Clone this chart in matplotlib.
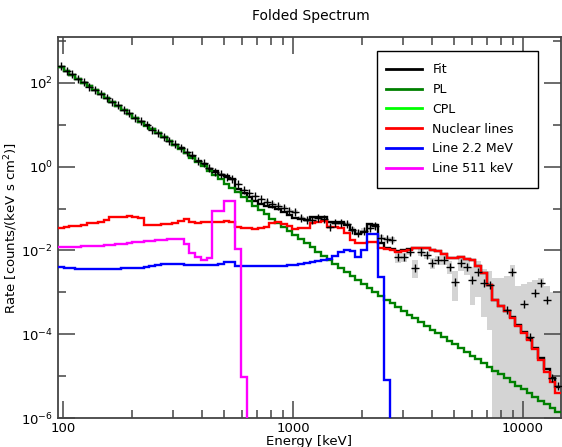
import numpy as np
import matplotlib
matplotlib.use("Agg")
import matplotlib.pyplot as plt
from matplotlib.lines import Line2D
from matplotlib.patches import Rectangle
from matplotlib.ticker import FixedLocator, LogLocator, NullFormatter, FuncFormatter, LogFormatterSciNotation

# energy binning (keV)
e_min, e_max, n_bins = 95.1, 14620.0, 88

# model components, log10 of rate per bin [counts/(keV s cm2)]
fit_log = [2.383, 2.290, 2.196, 2.104, 2.009, 1.917, 1.823, 1.731, 1.637, 1.544,
           1.450, 1.358, 1.263, 1.172, 1.078, 0.986, 0.892, 0.800, 0.707, 0.615,
           0.524, 0.435, 0.335, 0.233, 0.132, 0.034, -0.064, -0.111, -0.195, -0.221,
           -0.290, -0.530, -0.638, -0.723, -0.810, -0.879, -0.942, -0.969, -1.010, -1.081,
           -1.146, -1.222, -1.240, -1.267, -1.205, -1.201, -1.194, -1.312, -1.311, -1.323,
           -1.402, -1.523, -1.618, -1.568, -1.379, -1.380, -1.833, -1.936, -1.965, -2.015,
           -1.997, -1.975, -1.931, -1.932, -1.933, -1.982, -2.008, -2.079, -2.175, -2.175,
           -2.153, -2.200, -2.225, -2.367, -2.535, -2.818, -3.173, -3.315, -3.434, -3.600,
           -3.788, -3.951, -4.113, -4.322, -4.570, -4.833, -5.050, -5.271]

pl_log = [2.383, 2.290, 2.196, 2.104, 2.009, 1.917, 1.823, 1.730, 1.636, 1.543,
          1.449, 1.357, 1.262, 1.170, 1.076, 0.983, 0.889, 0.796, 0.702, 0.609,
          0.515, 0.423, 0.320, 0.217, 0.113, 0.010, -0.095, -0.198, -0.303, -0.406,
          -0.511, -0.614, -0.719, -0.822, -0.927, -1.030, -1.135, -1.238, -1.343, -1.446,
          -1.545, -1.640, -1.737, -1.832, -1.929, -2.025, -2.122, -2.217, -2.314, -2.409,
          -2.506, -2.601, -2.698, -2.794, -2.891, -2.986, -3.083, -3.174, -3.264, -3.353,
          -3.443, -3.531, -3.621, -3.710, -3.800, -3.888, -3.978, -4.067, -4.157, -4.245,
          -4.335, -4.424, -4.514, -4.602, -4.692, -4.781, -4.871, -4.959, -5.049, -5.137,
          -5.228, -5.316, -5.406, -5.494, -5.584, -5.673, -5.763, -5.851]

nuclear_log = [-1.463, -1.439, -1.415, -1.415, -1.391, -1.343, -1.343, -1.319, -1.272, -1.200,
               -1.200, -1.200, -1.176, -1.200, -1.224, -1.391, -1.391, -1.391, -1.367, -1.367,
               -1.343, -1.296, -1.248, -1.319, -1.343, -1.319, -1.319, -1.319, -1.319, -1.296,
               -1.319, -1.439, -1.463, -1.463, -1.487, -1.463, -1.439, -1.343, -1.319, -1.367,
               -1.415, -1.487, -1.463, -1.463, -1.343, -1.319, -1.296, -1.439, -1.439, -1.463,
               -1.582, -1.749, -1.821, -1.821, -1.797, -1.797, -1.940, -1.964, -1.988, -2.036,
               -2.012, -1.988, -1.940, -1.940, -1.940, -1.988, -2.012, -2.084, -2.179, -2.179,
               -2.155, -2.203, -2.227, -2.370, -2.537, -2.824, -3.182, -3.325, -3.445, -3.612,
               -3.803, -3.970, -4.137, -4.352, -4.615, -4.901, -5.140, -5.403]

# 2.2 MeV line, zero above the listed bins
line22_log = [-2.394, -2.418, -2.418, -2.442, -2.442, -2.442, -2.442, -2.442, -2.442, -2.442,
              -2.442, -2.418, -2.418, -2.418, -2.418, -2.394, -2.370, -2.346, -2.322, -2.322,
              -2.322, -2.322, -2.346, -2.346, -2.346, -2.346, -2.346, -2.346, -2.322, -2.275,
              -2.275, -2.370, -2.370, -2.370, -2.370, -2.370, -2.370, -2.370, -2.370, -2.370,
              -2.346, -2.346, -2.322, -2.299, -2.275, -2.251, -2.227, -2.203, -2.131, -2.036,
              -1.988, -2.012, -2.155, -1.988, -1.606, -1.606, -2.633, -5.093]

# 511 keV line, zero above the listed bins
line511_log = [-1.916, -1.916, -1.916, -1.916, -1.893, -1.893, -1.893, -1.893, -1.869, -1.869,
               -1.845, -1.845, -1.821, -1.797, -1.797, -1.773, -1.773, -1.749, -1.749, -1.726,
               -1.726, -1.726, -1.845, -2.060, -2.155, -2.227, -2.179, -1.057, -1.057, -0.818,
               -0.818, -1.964, -5.021]

# measured counts (None = negative after background subtraction)
data_log = [2.393, 2.285, 2.204, 2.104, 2.021, 1.911, 1.827, 1.740, 1.633, 1.550,
            1.462, 1.358, 1.271, 1.166, 1.088, 0.990, 0.884, 0.812, 0.713, 0.611,
            0.534, 0.453, 0.352, 0.281, 0.137, 0.090, -0.030, -0.120, -0.173, -0.245,
            -0.293, -0.412, -0.555, -0.627, -0.699, -0.770, -0.842, -0.890, -0.938, -0.985,
            -1.057, -1.081, -1.224, -1.272, -1.272, -1.224, -1.248, -1.439, -1.343, -1.343,
            -1.367, -1.510, -1.582, -1.534, -1.463, -1.415, -1.700, -1.730, -1.750, -2.160,
            -2.160, -2.040, -2.420, -2.040, -2.110, -2.300, -2.230, -2.230, -2.390, -2.750,
            -2.300, -2.390, -2.700, -2.510, -2.780, -2.820, None, None, -3.430, -2.510,
            None, -3.280, -4.070, -3.020, -2.780, -3.180, -5.040, -5.230]

# 1-sigma band of the measurement (None = reaches below zero)
band_lo_log = [2.373, 2.265, 2.184, 2.084, 2.001, 1.891, 1.807, 1.720, 1.613, 1.530,
               1.442, 1.338, 1.251, 1.146, 1.068, 0.970, 0.864, 0.792, 0.693, 0.591,
               0.514, 0.423, 0.322, 0.251, 0.107, 0.060, -0.060, -0.150, -0.203, -0.275,
               -0.323, -0.442, -0.585, -0.657, -0.729, -0.800, -0.887, -0.935, -0.983, -1.030,
               -1.102, -1.126, -1.269, -1.317, -1.317, -1.269, -1.293, -1.484, -1.388, -1.388,
               -1.412, -1.570, -1.642, -1.594, -1.523, -1.475, -1.760, -1.790, -1.810, -2.300,
               -2.280, -2.120, -2.650, -2.130, -2.200, -2.440, -2.340, -2.340, -2.560, -3.200,
               -2.480, -2.580, -3.300, -3.100, -3.600, -3.900, None, None, None, None,
               None, None, None, None, None, None, None, None]

band_hi_log = [2.413, 2.305, 2.224, 2.124, 2.041, 1.931, 1.847, 1.760, 1.653, 1.570,
               1.482, 1.378, 1.291, 1.186, 1.108, 1.010, 0.904, 0.832, 0.733, 0.631,
               0.554, 0.483, 0.382, 0.311, 0.167, 0.120, 0.000, -0.090, -0.143, -0.215,
               -0.263, -0.382, -0.525, -0.597, -0.669, -0.740, -0.797, -0.845, -0.893, -0.940,
               -1.012, -1.036, -1.179, -1.227, -1.227, -1.179, -1.203, -1.394, -1.298, -1.298,
               -1.322, -1.450, -1.522, -1.474, -1.403, -1.355, -1.640, -1.670, -1.690, -2.040,
               -2.050, -1.970, -2.230, -1.960, -2.030, -2.180, -2.130, -2.130, -2.250, -2.480,
               -2.150, -2.230, -2.400, -2.250, -2.450, -2.500, -2.650, -2.650, -2.620, -2.350,
               -2.850, -2.800, -2.750, -2.700, -2.650, -2.850, -3.000, -3.000]

floor = 1e-12


def to_rate(logs, n=None):
    n = n or len(logs)
    out = np.full(n, floor)
    for i, v in enumerate(logs):
        if v is not None:
            out[i] = 10.0 ** v
    return out


edges = np.geomspace(e_min, e_max, n_bins + 1)
centers = np.sqrt(edges[:-1] * edges[1:])

W, H = 562, 447
fig = plt.figure(figsize=(W / 100, H / 100), dpi=100)
ax = fig.add_axes([58 / W, 1 - 418 / H, 503 / W, 381 / H])

# error band of the measurement
lo = to_rate(band_lo_log)
hi = to_rate(band_hi_log)
ax.bar(edges[:-1], hi - lo, bottom=lo, width=np.diff(edges), align="edge",
       color="#d4d4d4", linewidth=0, zorder=1)

lw = 1.7
ax.stairs(to_rate(fit_log), edges, baseline=None, color="black", lw=lw, zorder=2)
ax.stairs(to_rate(pl_log), edges, baseline=None, color="#008000", lw=lw, zorder=3)
ax.stairs(to_rate(nuclear_log), edges, baseline=None, color="red", lw=lw, zorder=4)
ax.stairs(to_rate(line22_log, n_bins), edges, baseline=None, color="blue", lw=lw, zorder=5)
ax.stairs(to_rate(line511_log, n_bins), edges, baseline=None, color="magenta", lw=lw, zorder=6)

d = to_rate(data_log)
ok = d > floor
ax.plot(centers[ok], d[ok], "+", color="black", ms=6, mew=1.0, zorder=7)

ax.set_xscale("log")
ax.set_yscale("log")
ax.set_xlim(e_min, e_max)
ax.set_ylim(1e-6, 1.25e3)

ax.yaxis.set_major_locator(FixedLocator([1e-6, 1e-4, 1e-2, 1e0, 1e2]))
ax.yaxis.set_minor_locator(FixedLocator([1e-5, 1e-3, 1e-1, 1e1, 1e3]))
ax.yaxis.set_major_formatter(LogFormatterSciNotation())
ax.yaxis.set_minor_formatter(NullFormatter())
ax.xaxis.set_major_locator(LogLocator(base=10))
ax.xaxis.set_minor_locator(LogLocator(base=10, subs=np.arange(2, 10)))
ax.xaxis.set_major_formatter(FuncFormatter(lambda v, _: f"{v:.0f}"))
ax.xaxis.set_minor_formatter(NullFormatter())

ax.tick_params(which="both", direction="in", top=True, right=True,
               color="#444444", width=1.1, labelsize=9.5)
ax.tick_params(which="major", length=12)
ax.tick_params(axis="x", which="major", pad=3)
ax.tick_params(which="minor", length=6)
for s in ax.spines.values():
    s.set_linewidth(1.3)
    s.set_color("#444444")

ax.set_xlabel("Energy [keV]", fontsize=9.5)
ax.xaxis.set_label_coords(0.5, -0.044)
ax.set_ylabel("Rate [counts/(keV s cm$^2$)]", fontsize=9.5)
ax.yaxis.set_label_coords(-0.075, 0.5)
fig.text(311 / W, 1 - 16 / H, "Folded Spectrum", ha="center", va="center", fontsize=10)

# legend: frame drawn as a fixed box, entries placed inside it
frame = Rectangle((377 / W, 1 - 188 / H), 161 / W, 137 / H, transform=fig.transFigure,
                  facecolor="white", edgecolor="black", lw=1.0, zorder=8)
fig.patches.append(frame)
handles = [Line2D([], [], color=c, lw=2) for c in
           ["black", "#008000", "#00ff00", "red", "blue", "magenta"]]
labels = ["Fit", "PL", "CPL", "Nuclear lines", "Line 2.2 MeV", "Line 511 keV"]
leg = fig.legend(handles, labels, loc="upper left", bbox_to_anchor=(386 / W, 1 - 63 / H),
                 fontsize=9, handlelength=2.9, handletextpad=0.8, labelspacing=0.55,
                 borderpad=0, borderaxespad=0, frameon=False)
leg.set_zorder(9)

fig.savefig("out.png", dpi=100)
